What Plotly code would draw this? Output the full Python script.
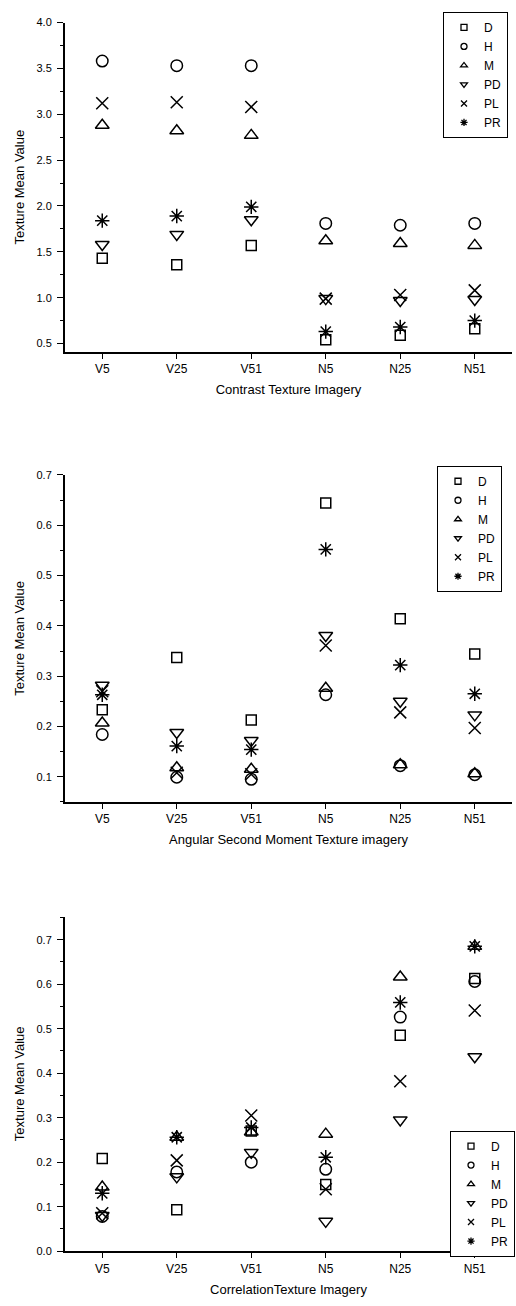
import plotly.graph_objects as go

categories = ["V5", "V25", "V51", "N5", "N25", "N51"]
series_names = ["D", "H", "M", "PD", "PL", "PR"]

# Panel 1: Contrast
contrast_D = [1.43, 1.36, 1.57, 0.54, 0.59, 0.66]
contrast_H = [3.58, 3.53, 3.53, 1.81, 1.79, 1.81]
contrast_M = [2.88, 2.82, 2.77, 1.62, 1.59, 1.57]
contrast_PD = [1.58, 1.69, 1.85, 0.99, 0.97, 0.98]
contrast_PL = [3.12, 3.13, 3.08, 0.99, 1.03, 1.08]
contrast_PR = [1.84, 1.89, 1.99, 0.63, 0.68, 0.75]

# Panel 2: Angular Second Moment
asm_D = [0.233, 0.337, 0.213, 0.644, 0.414, 0.344]
asm_H = [0.184, 0.099, 0.095, 0.263, 0.122, 0.104]
asm_M = [0.207, 0.118, 0.115, 0.276, 0.124, 0.106]
asm_PD = [0.282, 0.188, 0.172, 0.381, 0.250, 0.223]
asm_PL = [0.270, 0.108, 0.105, 0.361, 0.228, 0.197]
asm_PR = [0.263, 0.161, 0.154, 0.552, 0.322, 0.265]

# Panel 3: Correlation
corr_D = [0.208, 0.093, 0.270, 0.150, 0.485, 0.613]
corr_H = [0.078, 0.178, 0.200, 0.184, 0.526, 0.606]
corr_M = [0.144, 0.256, 0.268, 0.263, 0.616, 0.685]
corr_PD = [0.080, 0.167, 0.222, 0.067, 0.295, 0.437]
corr_PL = [0.085, 0.204, 0.305, 0.139, 0.382, 0.541]
corr_PR = [0.130, 0.256, 0.278, 0.211, 0.559, 0.685]

x_titles = ["Contrast Texture Imagery",
            "Angular Second Moment Texture imagery",
            "CorrelationTexture Imagery"]
y_title = "Texture Mean Value"

panels = [
    [contrast_D, contrast_H, contrast_M, contrast_PD, contrast_PL, contrast_PR],
    [asm_D, asm_H, asm_M, asm_PD, asm_PL, asm_PR],
    [corr_D, corr_H, corr_M, corr_PD, corr_PL, corr_PR],
]

symbols = ["square-open", "circle-open", "triangle-up-open",
           "triangle-down-open", "x-thin-open", "asterisk-open"]
sizes = [10, 11.5, 12, 12, 12, 12]

W, H = 516, 1306
FONT = "Liberation Sans, Arial, sans-serif"

def py(px):
    return 1 - px / H

x_dom = [65 / W, 512 / W]
y_doms = [[py(349), py(16.7)], [py(803.3), py(473.3)], [py(1256.7), py(919)]]
y_ranges = [[0.41, 4.0], [0.05, 0.70], [0.0, 0.752]]
y_dticks = [0.5, 0.1, 0.1]
y_minor = [0.25, 0.05, 0.05]
legend_pos = [(508 / W, py(6)), (502 / W, py(464)), (515 / W, py(1135))]
legend_names = ["legend", "legend2", "legend3"]

fig = go.Figure()

for p, data in enumerate(panels):
    xa = "x" if p == 0 else f"x{p+1}"
    ya = "y" if p == 0 else f"y{p+1}"
    for i, name in enumerate(series_names):
        fig.add_trace(go.Scatter(
            x=categories, y=data[i], mode="markers", name=name,
            xaxis=xa, yaxis=ya, showlegend=False,
            marker=dict(symbol=symbols[i], size=sizes[i], color="black",
                        line=dict(color="black", width=1.5)),
        ))
        # legend-only entry with small marker
        fig.add_trace(go.Scatter(
            x=[None], y=[None], mode="markers", name=name,
            xaxis=xa, yaxis=ya, showlegend=True, legend=legend_names[p],
            marker=dict(symbol=symbols[i], size=6, color="black",
                        line=dict(color="black", width=1.3)),
        ))

layout = dict(
    width=W, height=H,
    margin=dict(l=0, r=0, t=0, b=0),
    paper_bgcolor="white", plot_bgcolor="white",
    font=dict(family=FONT, color="black", size=12),
)

for p in range(3):
    xk = "xaxis" if p == 0 else f"xaxis{p+1}"
    yk = "yaxis" if p == 0 else f"yaxis{p+1}"
    ya = "y" if p == 0 else f"y{p+1}"
    xa = "x" if p == 0 else f"x{p+1}"
    layout[xk] = dict(
        domain=x_dom, anchor=ya, type="category",
        categoryorder="array", categoryarray=categories,
        range=[-0.5, 5.5], showline=True, linecolor="black", linewidth=2,
        ticks="outside", ticklen=5, tickcolor="black", tickwidth=1.2,
        showgrid=False, zeroline=False,
        tickfont=dict(size=12, family=FONT),
        title=dict(text=x_titles[p], font=dict(size=13, family=FONT), standoff=10),
    )
    layout[yk] = dict(
        domain=y_doms[p], anchor=xa, range=y_ranges[p],
        dtick=y_dticks[p], tick0=0, tickformat=".1f",
        showline=True, linecolor="black", linewidth=2,
        ticks="outside", ticklen=6, tickcolor="black", tickwidth=1.2,
        ticklabelstandoff=3,
        minor=dict(dtick=y_minor[p], tick0=0, ticks="outside", ticklen=3,
                   tickcolor="black", tickwidth=1),
        showgrid=False, zeroline=False,
        tickfont=dict(size=11, family=FONT),
        title=dict(text=y_title, font=dict(size=13, family=FONT), standoff=9),
    )
    lx, ly = legend_pos[p]
    layout[legend_names[p]] = dict(
        x=lx, y=ly, xanchor="right", yanchor="top",
        bgcolor="white", bordercolor="black", borderwidth=1,
        font=dict(size=12, family=FONT, color="black"),
        itemwidth=30, tracegroupgap=0,
    )

fig.update_layout(**layout)
fig.write_html("out.html", config={"displayModeBar": False},
               post_script="document.body.style.margin='0';")
